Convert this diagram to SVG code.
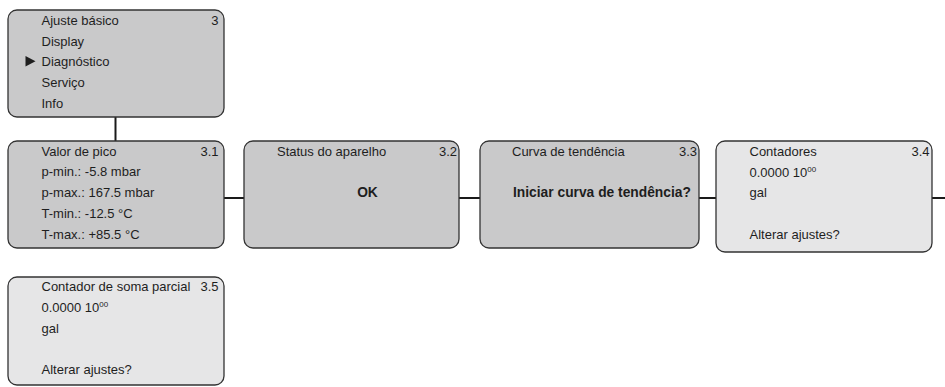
<svg xmlns="http://www.w3.org/2000/svg" width="945" height="387" viewBox="0 0 945 387">
<style>
.box{fill:#c9c9ca;stroke:#333333;stroke-width:1.3}
.lbox{fill:#e6e6e7;stroke:#333333;stroke-width:1.3}
text{font-family:"Liberation Sans",Arial,Helvetica,sans-serif;font-size:13px;fill:#1e1e1e}
.b{font-weight:bold;font-size:13.8px}
.r{text-anchor:end}
.c{text-anchor:middle}
.sup{font-size:8px}
.con{stroke:#1a1a1a;stroke-width:2;fill:none}
</style>
<rect width="945" height="387" fill="#ffffff"/>
<g id="connectors">
<line class="con" x1="115.5" y1="117" x2="115.5" y2="141"/>
<line class="con" x1="224" y1="198" x2="244" y2="198"/>
<line class="con" x1="459" y1="198" x2="480" y2="198"/>
<line class="con" x1="699" y1="198" x2="716" y2="198"/>
<line class="con" x1="932" y1="198" x2="945" y2="198"/>
</g>
<g id="menu">
<rect class="box" x="8" y="10" width="216" height="107" rx="9"/>
<text x="41.5" y="24.5">Ajuste básico</text>
<text class="r" x="218.5" y="24.5">3</text>
<text x="41.5" y="45.5">Display</text>
<polygon points="25.5,56 35.5,61.3 25.5,66.6" fill="#1e1e1e"/>
<text x="41.5" y="66">Diagnóstico</text>
<text x="41.5" y="87">Serviço</text>
<text x="41.5" y="108">Info</text>
</g>
<g id="n3_1">
<rect class="box" x="8" y="141" width="216" height="107" rx="9"/>
<text x="41.5" y="155.5">Valor de pico</text>
<text class="r" x="218.5" y="155.5">3.1</text>
<text x="41.5" y="176">p-min.: -5.8 mbar</text>
<text x="41.5" y="197">p-max.: 167.5 mbar</text>
<text x="41.5" y="217.5">T-min.: -12.5 °C</text>
<text x="41.5" y="238.5">T-max.: +85.5 °C</text>
</g>
<g id="n3_2">
<rect class="box" x="244" y="141" width="215" height="107" rx="9"/>
<text x="277" y="155.5">Status do aparelho</text>
<text class="r" x="457" y="155.5">3.2</text>
<text class="b c" x="367.5" y="197">OK</text>
</g>
<g id="n3_3">
<rect class="box" x="480" y="141" width="219" height="107" rx="9"/>
<text x="512" y="155.5">Curva de tendência</text>
<text class="r" x="697" y="155.5">3.3</text>
<text class="b" x="513" y="197">Iniciar curva de tendência?</text>
</g>
<g id="n3_4">
<rect class="lbox" x="716" y="141" width="216" height="111" rx="9"/>
<text x="749.5" y="155.5">Contadores</text>
<text class="r" x="929.5" y="155.5">3.4</text>
<text x="749.5" y="176.5">0.0000 10<tspan class="sup" dy="-5">00</tspan></text>
<text x="749.5" y="197">gal</text>
<text x="749.5" y="238.5">Alterar ajustes?</text>
</g>
<g id="n3_5">
<rect class="lbox" x="8" y="277" width="216" height="108" rx="9"/>
<text x="41.5" y="291">Contador de soma parcial</text>
<text class="r" x="218.5" y="291">3.5</text>
<text x="41.5" y="312">0.0000 10<tspan class="sup" dy="-5">00</tspan></text>
<text x="41.5" y="332.5">gal</text>
<text x="41.5" y="373.5">Alterar ajustes?</text>
</g>
</svg>
